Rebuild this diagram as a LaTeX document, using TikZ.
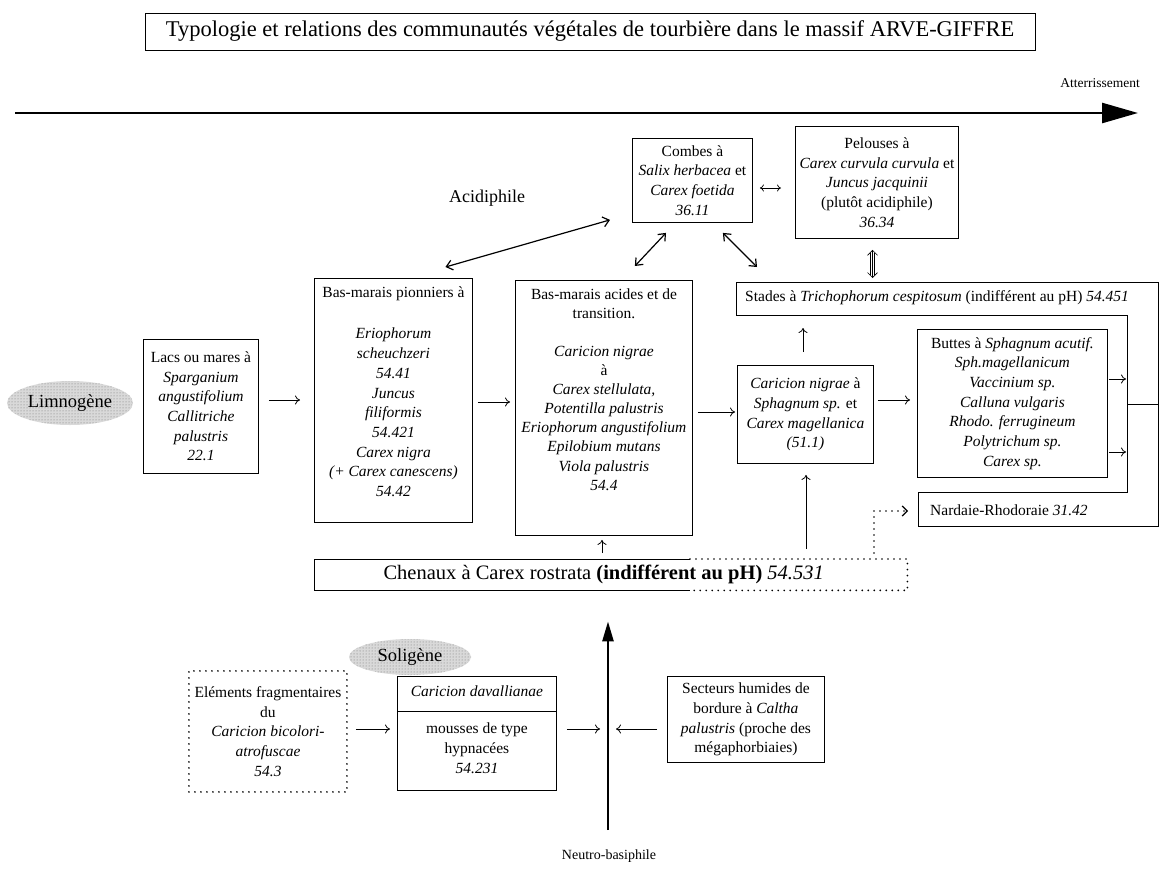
\documentclass[tikz,border=0pt]{standalone}
\usepackage{fontspec}
\setmainfont{Liberation Serif}
\usetikzlibrary{arrows.meta,calc,shapes.geometric,patterns}
\newcommand\myfs[2]{\fontsize{#1}{#2}\selectfont}
\newcommand\bxc[3]{\parbox[c][#2][c]{#1}{\centering\myfs{15.5}{19.7}#3\par}}
\newcommand\bxt[4]{\parbox[c][#2][t]{#1}{\centering\myfs{15.5}{19.7}\vspace*{#3}#4\par}}
\begin{document}
\begin{tikzpicture}[x=1pt,y=-1pt,
  box/.style={draw, line width=0.9pt, inner sep=0pt, anchor=north west},
  plain/.style={inner sep=0pt},
  arr/.style={line width=0.8pt, -{To[length=5pt,width=9pt]}},
  darr/.style={line width=1.2pt, {Straight Barb[length=6pt,width=10pt]}-{Straight Barb[length=6pt,width=10pt]}},
  sarr/.style={line width=0.7pt, {To[length=4pt,width=7pt]}-{To[length=4pt,width=7pt]}},
  dotln/.style={line width=1.9pt, dash pattern=on 0pt off 6pt, line cap=round},
  blob/.style={ellipse, inner sep=0pt, preaction={fill=gray!30}, pattern=dots, pattern color=gray!90!black},
  bigarr/.style={line width=2.6pt, -{Triangle[length=36pt,width=20pt]}},
  outline/.style={line width=0.9pt}
]
\fill[white] (0,0) rectangle (1160,873);
\useasboundingbox (0,0) rectangle (1160,873);

% title
\node[draw, line width=0.8pt, minimum width=890pt, minimum height=37pt, inner sep=0pt] (title) at (590,31.5)
  {\myfs{22.5}{25}Typologie et relations des communautés végétales de tourbière dans le massif ARVE-GIFFRE};

% main arrow
\coordinate (a0) at (15,113);
\coordinate (a1) at (1138,113);
\draw[bigarr] (a0) -- (a1);
\node[plain, anchor=east] (atter) at (1140,83) {\myfs{13.5}{16}Atterrissement};

\node[plain] (acidi) at (487,198) {\myfs{18}{21}Acidiphile};

% upper boxes
\node[box] (combes) at (632,138) {\bxc{120pt}{84pt}{Combes à\\ \textit{Salix herbacea} et\\ \textit{Carex foetida}\\ \textit{36.11}}};
\node[box] (pel) at (795,126) {\bxc{163pt}{112pt}{Pelouses à\\ \textit{Carex curvula curvula} et\\ \textit{Juncus jacquinii}\\ (plutôt acidiphile)\\ \textit{36.34}}};

% Stades / channel outline
\coordinate (stTL) at (736,282);
\coordinate (stTR) at (1158,282);
\coordinate (stBR) at (1158,526);
\coordinate (naBL) at (918,526);
\coordinate (naTL) at (918,492);
\coordinate (chB) at (1127,492);
\coordinate (chT) at (1127,315);
\coordinate (stBL) at (736,315);
\coordinate (stub) at (1127,404);
\coordinate (nardL) at (918,511);
\draw[outline] (stTL) -- (stTR) -- (stBR) -- (naBL) -- (naTL) -- (chB) -- (chT) -- (stBL) -- cycle;
\draw[outline] (stub) -- (stub -| stTR);
\node[plain, anchor=west] (stades) at (745,298) {\myfs{15.5}{19}Stades à \textit{Trichophorum cespitosum} (indifférent au pH) \textit{54.451}};
\node[plain, anchor=west] (nard) at (930,510) {\myfs{15.5}{19}Nardaie-Rhodoraie \textit{31.42}};

% middle row
\node[blob, minimum width=126pt, minimum height=44pt] (limno) at (70,403) {\myfs{18.5}{21}Limnogène};
\node[box] (lacs) at (143,339) {\bxc{115pt}{134pt}{Lacs ou mares à\\ \itshape Sparganium\\ angustifolium\\ Callitriche\\ palustris\\ 22.1}};
\node[box] (pion) at (314,278) {\bxt{158pt}{244pt}{8pt}{Bas-marais pionniers à\\[22pt] \itshape Eriophorum\\ scheuchzeri\\ 54.41\\ Juncus\\ filiformis\\ 54.421\\ Carex nigra\\ (+ Carex canescens)\\ 54.42}};
\node[box] (acid) at (515,280) {\bxt{177pt}{255pt}{8pt}{\myfs{15.5}{19.1}Bas-marais acides et de\\ transition.\\[19pt] \textit{Caricion nigrae}\\ à\\ \itshape Carex stellulata,\\ Potentilla palustris\\ Eriophorum angustifolium\\ Epilobium mutans\\ Viola palustris\\ 54.4}};
\node[box] (csph) at (737,365) {\bxc{136pt}{98pt}{\textit{Caricion nigrae} à\\ \textit{Sphagnum sp.} et\\ \textit{Carex magellanica}\\ \textit{(51.1)}}};
\node[box] (butt) at (917,329) {\bxc{190pt}{148pt}{Buttes à \textit{Sphagnum acutif.}\\ \itshape Sph.magellanicum\\ Vaccinium sp.\\ Calluna vulgaris\\ Rhodo. ferrugineum\\ Polytrichum sp.\\ Carex sp.}};

% Chenaux
\node[plain, anchor=north west, minimum width=593pt, minimum height=31pt] (chen) at (314,559)
  {\myfs{20.5}{23}\hspace*{-14pt}Chenaux à Carex rostrata \textbf{(indifférent au pH)} \textit{54.531}};
\draw[outline] ($(chen.north west)+(376,0)$) -- (chen.north west) -- (chen.south west) -- ($(chen.south west)+(376,0)$);
\draw[dotln] ($(chen.north west)+(376,0)$) -- (chen.north east) -- (chen.south east) -- ($(chen.south west)+(376,0)$);

% bottom
\node[blob, minimum width=122pt, minimum height=36pt] (soli) at (410,657) {\myfs{18.5}{21}Soligène};
\node[box, dotln] (elem) at (188,670) {\bxc{158pt}{121pt}{Eléments fragmentaires\\ du\\ \itshape Caricion bicolori-\\ atrofuscae\\ 54.3}};
\node[box] (dav) at (397,676) {\bxt{159pt}{114pt}{9pt}{\textit{Caricion davallianae}\\[18pt] mousses de type\\ hypnacées\\ \textit{54.231}}};
\draw[outline] (dav.west |- 0,711) -- (dav.east |- 0,711);
\node[box] (sect) at (667,676) {\bxc{157pt}{86pt}{Secteurs humides de\\ bordure à \textit{Caltha}\\ \textit{palustris} (proche des\\ mégaphorbiaies)}};
\node[plain] (neutro) at (609,856) {\myfs{14}{17}Neutro-basiphile};
\coordinate (nb0) at (608,830);
\coordinate (bl) at (608,729);
\draw[line width=2.6pt, -{Triangle[length=20pt,width=11pt]}, shorten >=31pt] (nb0) -- (chen.south -| nb0);

% connectors, middle
\draw[arr, shorten <=10pt, shorten >=14pt] (lacs.east |- 0,400) -- (pion.west |- 0,400);
\draw[arr, shorten <=5pt, shorten >=5pt] (pion.east |- 0,402) -- (acid.west |- 0,402);
\draw[arr, shorten <=5pt, shorten >=2pt] (acid.east |- 0,412) -- (csph.west |- 0,412);
\draw[arr, shorten <=4pt, shorten >=7pt] (csph.east |- 0,400) -- (butt.west |- 0,400);
\draw[arr, shorten <=13pt, shorten >=13pt] (csph.north -| 803,0) -- (stBL -| 803,0);
\draw[arr, shorten <=1pt, shorten >=1pt] (butt.east |- 0,379) -- (chT |- 0,379);
\draw[arr, shorten <=1pt, shorten >=1pt] (butt.east |- 0,452) -- (chT |- 0,452);
\draw[arr, shorten <=6pt, shorten >=4pt] (chen.north -| 602,0) -- (acid.south -| 602,0);
\draw[arr, shorten <=10pt, shorten >=11pt] (chen.north -| 806,0) -- (csph.south -| 806,0);
\draw[dotln, -{Straight Barb[length=5pt,width=10pt,line width=1.2pt]}, shorten <=6pt, shorten >=10pt] (chen.north -| 874,0) |- (nardL);

% relations around Combes
\draw[darr] ($(pion.north)+(52,-11)$) -- ($(combes.south west)+(-22,-3)$);
\draw[darr] ($(acid.north east)+(-58,-14)$) -- ($(combes.south west)+(34,10)$);
\draw[darr] ($(combes.south east)+(-30,10)$) -- ($(stTL)+(21,-15)$);
\draw[sarr, shorten <=7pt, shorten >=14pt] (combes.east |- 0,188) -- (pel.west |- 0,188);
\coordinate (vu) at ($(pel.south -| 872.5,0)+(0,11)$);
\coordinate (vd) at ($(stTL -| 872.5,0)+(0,-4)$);
\draw[line width=0.6pt, {Straight Barb[length=5pt,width=10pt]}-{Straight Barb[length=5pt,width=10pt]}] (vu) -- (vd);
\draw[line width=0.5pt] ($(vu)+(1.8,3)$) -- ($(vd)+(1.8,-3)$);
\draw[line width=0.5pt] ($(vu)+(-1.8,3)$) -- ($(vd)+(-1.8,-3)$);

% connectors, bottom
\draw[arr, shorten <=8pt, shorten >=7pt] (elem.east |- bl) -- (dav.west |- bl);
\draw[arr, shorten <=10pt, shorten >=8pt] (dav.east |- bl) -- (bl);
\draw[arr, shorten <=10pt, shorten >=8pt] (sect.west |- bl) -- (bl);
\end{tikzpicture}
\end{document}
